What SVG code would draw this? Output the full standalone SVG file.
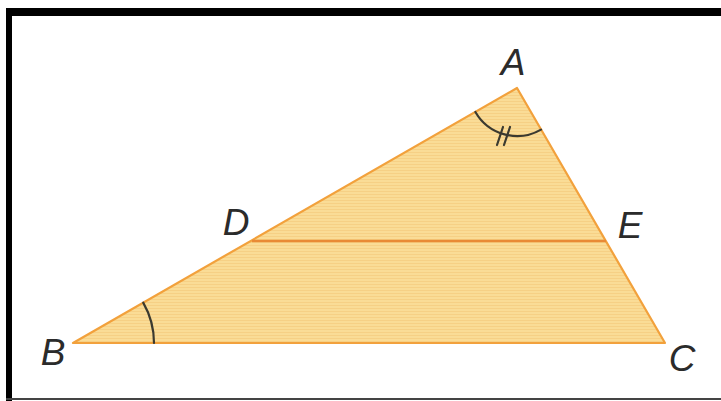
<svg xmlns="http://www.w3.org/2000/svg" width="721" height="401" viewBox="0 0 721 401">
  <defs>
    <pattern id="stripes" patternUnits="userSpaceOnUse" width="8" height="3">
      <rect width="8" height="3" fill="#FADC96"/>
      <rect y="2" width="8" height="1" fill="#F6D085"/>
    </pattern>
    <style>
      .lbl { font-family: "Liberation Sans", Arial, sans-serif; font-style: italic; font-size: 37px; fill: #2b2b2b; text-anchor: middle; }
      .edge { fill: none; stroke: #F2A13C; stroke-width: 2.2; stroke-linejoin: round; }
      .mid { stroke: #E98A35; stroke-width: 2.6; }
      .arc { fill: none; stroke: #3b3a30; stroke-width: 2.2; stroke-linecap: round; }
    </style>
  </defs>
  <rect width="721" height="401" fill="#ffffff"/>
  <!-- frame -->
  <g id="frame">
    <rect x="6" y="8" width="715" height="8" fill="#000"/>
    <rect x="6" y="8" width="6" height="393" fill="#000"/>
    <rect x="6" y="398" width="715" height="2" fill="#444"/>
  </g>
  <g id="triangle">
    <polygon points="517,88 73,343 665,343" fill="url(#stripes)"/>
    <polygon class="edge" points="517,88 73,343 665,343"/>
  </g>
  <g id="connectors">
    <line id="DE" class="mid" x1="252" y1="241" x2="606" y2="241"/>
  </g>
  <g id="angle-A">
    <path class="arc" d="M475.4,112 A48,48 0 0 0 541,129.6"/>
    <line class="arc" x1="497" y1="145" x2="503" y2="127" stroke-width="1.8"/>
    <line class="arc" x1="504" y1="145" x2="510" y2="127" stroke-width="1.8"/>
  </g>
  <g id="angle-B">
    <path class="arc" d="M143.2,302.6 A81,81 0 0 1 154,343"/>
  </g>
  <g id="label-A"><text class="lbl" x="513" y="75">A</text></g>
  <g id="label-B"><text class="lbl" x="53" y="365">B</text></g>
  <g id="label-C"><text class="lbl" x="682" y="371">C</text></g>
  <g id="label-D"><text class="lbl" x="236" y="235">D</text></g>
  <g id="label-E"><text class="lbl" x="630" y="238">E</text></g>
</svg>
